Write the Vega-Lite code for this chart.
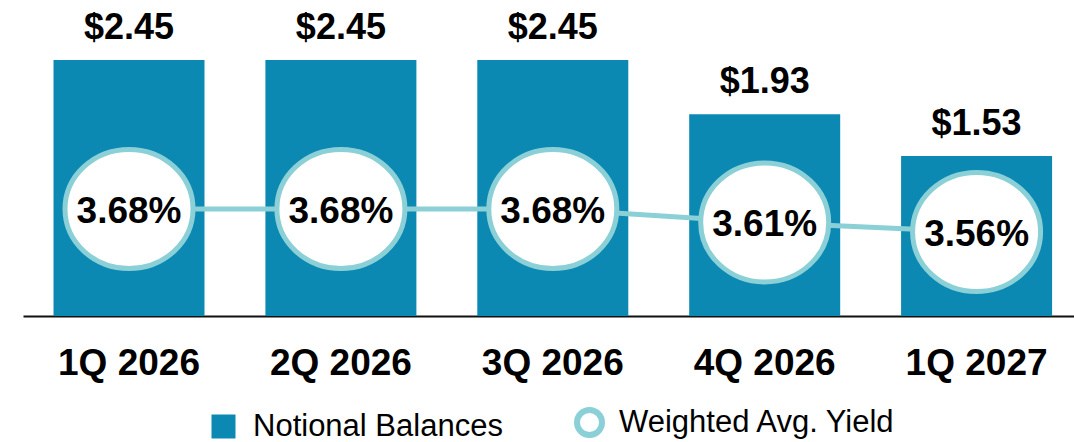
{
  "$schema": "https://vega.github.io/schema/vega-lite/v6.json",
  "width": 1051,
  "height": 316,
  "padding": {"left": 23, "top": 0, "right": 0, "bottom": 0},
  "background": "white",
  "config": {"view": {"stroke": null}, "font": "Liberation Sans"},
  "data": {
    "values": [
      {"quarter": "1Q 2026", "balance": 2.45, "yield": 3.68},
      {"quarter": "2Q 2026", "balance": 2.45, "yield": 3.68},
      {"quarter": "3Q 2026", "balance": 2.45, "yield": 3.68},
      {"quarter": "4Q 2026", "balance": 1.93, "yield": 3.61},
      {"quarter": "1Q 2027", "balance": 1.53, "yield": 3.56}
    ]
  },
  "encoding": {
    "x": {
      "field": "quarter",
      "type": "nominal",
      "sort": null,
      "scale": {"paddingInner": 0.2874, "paddingOuter": 0.1237, "align": 0.582},
      "axis": {
        "title": null,
        "labelAngle": 0,
        "labelFont": "Liberation Sans",
        "labelFontWeight": "bold",
        "labelFontSize": 37,
        "labelColor": "black",
        "labelPadding": 29,
        "ticks": false,
        "grid": false,
        "domainColor": "#111111",
        "domainWidth": 2
      }
    }
  },
  "layer": [
    {
      "layer": [
        {
          "mark": {"type": "bar"},
          "encoding": {
            "y": {"field": "balance", "type": "quantitative", "scale": {"domain": [0, 3.024], "nice": false}, "axis": null},
            "fill": {
              "datum": "Notional Balances",
              "type": "nominal",
              "scale": {"range": ["#0b89b3"]},
              "legend": {
                "orient": "none",
                "legendX": 185,
                "legendY": 411,
                "title": null,
                "labelFont": "Liberation Sans",
                "labelFontSize": 31,
                "labelColor": "black",
                "labelOffset": 14,
                "labelLimit": 0,
                "symbolType": "square",
                "symbolSize": 576,
                "symbolStrokeWidth": 0,
                "symbolOpacity": 1
              }
            }
          }
        },
        {
          "mark": {"type": "text", "dy": -21, "baseline": "alphabetic", "font": "Liberation Sans", "fontWeight": "bold", "fontSize": 36, "color": "black"},
          "encoding": {
            "y": {"field": "balance", "type": "quantitative"},
            "text": {"field": "balance", "type": "quantitative", "format": "$.2f"}
          }
        }
      ]
    },
    {
      "transform": [{"calculate": "format(datum.yield, '.2f') + '%'", "as": "yieldLabel"}],
      "layer": [
        {
          "mark": {"type": "line", "color": "#8bd0d6", "strokeWidth": 5},
          "encoding": {
            "y": {"field": "yield", "type": "quantitative", "scale": {"domain": [3.122, 4.77], "nice": false, "zero": false}, "axis": null}
          }
        },
        {
          "mark": {"type": "point", "shape": "M-1,0A1,0.93,0,1,1,1,0A1,0.93,0,1,1,-1,0Z", "size": 16384, "fill": "white", "strokeWidth": 5, "opacity": 1},
          "encoding": {
            "y": {"field": "yield", "type": "quantitative"},
            "stroke": {
              "datum": "Weighted Avg. Yield",
              "type": "nominal",
              "scale": {"range": ["#8bd0d6"]},
              "legend": {
                "orient": "none",
                "legendX": 551,
                "legendY": 407,
                "title": null,
                "labelFont": "Liberation Sans",
                "labelFontSize": 31,
                "labelColor": "black",
                "labelOffset": 14,
                "labelLimit": 0,
                "symbolType": "circle",
                "symbolSize": 625,
                "symbolStrokeWidth": 6,
                "symbolFillColor": "white",
                "symbolOpacity": 1
              }
            }
          }
        },
        {
          "mark": {"type": "text", "dy": 3, "baseline": "middle", "font": "Liberation Sans", "fontWeight": "bold", "fontSize": 37, "color": "black"},
          "encoding": {
            "y": {"field": "yield", "type": "quantitative"},
            "text": {"field": "yieldLabel", "type": "nominal"}
          }
        }
      ]
    }
  ],
  "resolve": {"scale": {"y": "independent"}}
}
